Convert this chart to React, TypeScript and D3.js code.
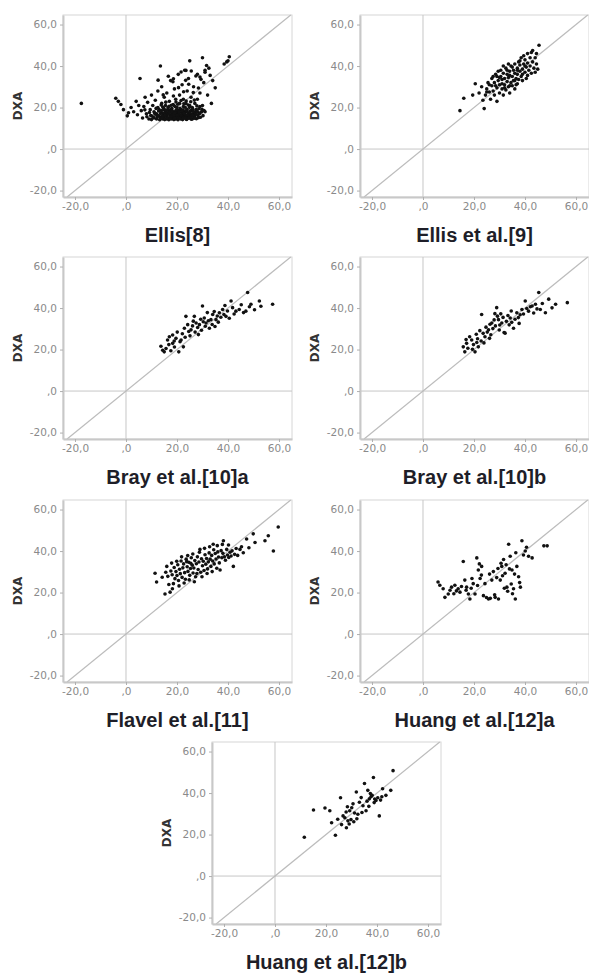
import { useEffect, useRef } from 'react';
import * as d3 from 'd3';

// values: [method estimate, DXA]
const ellis8: [number, number][] = [
  [-17.5, 22], [-4, 24.5], [-3, 23], [-2, 21.5], [-1, 19], [0.5, 16], [1, 17.5], [2, 20], [3, 18], [4, 23],
  [4.5, 16.5], [5.5, 34], [5, 21], [6, 18.5], [6.5, 15], [7, 20.5], [7.5, 25], [8, 17], [8.5, 22.5], [9, 14.5],
  [9.5, 19], [10, 26], [10, 16], [10.5, 21], [11, 15], [11, 18], [11.5, 23.5], [12, 14.5], [12, 17], [12.5, 20],
  [12.5, 28], [13, 16], [13, 19], [13.5, 40], [13.5, 15], [14, 22], [14, 17.5], [14, 30], [14.5, 14.5], [14.5, 16.5],
  [15, 19], [15, 25], [15, 15.5], [15.5, 18], [15.5, 21], [16, 14.5], [16, 16.5], [16, 27], [16.5, 17.5], [16.5, 20],
  [17, 15], [17, 23], [17, 18.5], [17.5, 16], [17.5, 33], [18, 14.5], [18, 19.5], [18, 17], [18.5, 21.5], [18.5, 15.5],
  [19, 18], [19, 29], [19, 16], [19.5, 24], [19.5, 14.5], [20, 17], [20, 20], [20, 15.5], [20.5, 36], [20.5, 18.5],
  [21, 16], [21, 22], [21, 26], [21.5, 14.5], [21.5, 19], [22, 17], [22, 31], [22, 15.5], [22.5, 20.5], [22.5, 24],
  [23, 16.5], [23, 18], [23, 38], [23.5, 14.5], [23.5, 22], [24, 15.5], [24, 19], [24, 28], [24.5, 17], [24.5, 34],
  [25, 21], [25, 42.5], [25, 16], [25.5, 18.5], [25.5, 25], [26, 14.5], [26, 20], [26.5, 17], [26.5, 30], [27, 22],
  [27, 16], [27.5, 19], [28, 24], [28, 36], [28.5, 17.5], [29, 20.5], [29, 27], [30, 44], [30, 21], [30.5, 32],
  [31, 38], [31, 18], [32, 26], [32.5, 39], [33, 35.5], [33.5, 22], [34, 33], [35, 29.5], [38.5, 41], [39.5, 42],
  [40.5, 44.5], [40, 42.5], [10, 14.2], [11.5, 16.8], [12.2, 15.6], [12.8, 18.4], [13.2, 14.1], [13.6, 17.2], [14.3, 15.8], [14.8, 19.6],
  [15.2, 14.2], [15.8, 17.1], [16.2, 15.3], [16.4, 18.9], [16.8, 14.1], [17.2, 16.4], [17.6, 19.1], [18.2, 15.1], [18.4, 17.8], [18.8, 14.2],
  [19.2, 16.9], [19.4, 20.4], [19.8, 15.2], [20.2, 18.1], [20.4, 14.1], [20.8, 16.8], [21.2, 19.6], [21.4, 15.3], [21.8, 17.6], [22.2, 14.2],
  [22.4, 18.9], [22.8, 15.8], [23.2, 20.1], [23.4, 16.2], [23.8, 14.3], [24.2, 17.6], [24.4, 21.2], [24.8, 15.1], [25.2, 18.3], [25.6, 14.4],
  [25.8, 16.7], [26.2, 19.2], [26.6, 15.4], [27.2, 17.8], [27.6, 14.6], [28.2, 16.2], [28.6, 19.4], [29.2, 15.3], [29.6, 17.9], [30.2, 16.1],
  [15.6, 22.6], [17.8, 21.1], [19.6, 22.7], [21.6, 23.4], [23.6, 23.1], [25.4, 22.8], [26.8, 23.6], [13.8, 21.2], [11.8, 19.6], [9.2, 17.6],
  [8.2, 15.6], [7.4, 18.9], [14.6, 26.1], [18.6, 25.6], [22.6, 27.6], [20.6, 29.6], [24.6, 31.2], [26.4, 27.2], [28.4, 29.4], [29.4, 33.6],
  [27.4, 35.2], [25.6, 37.6], [23.4, 33.1], [18.4, 32.4], [16.6, 35.1], [12.6, 33.2], [29, 34.7], [31, 37], [31.6, 40.3], [21.6, 37.1],
  [23.5, 37.9], [18.6, 33.9],
  [12.4, 16.1], [13.4, 15.2], [13.9, 18.6], [14.1, 14.8], [14.9, 17.4], [15.4, 16.2], [15.9, 18.7], [16.3, 14.9], [16.7, 16.9], [17.1, 17.7],
  [17.4, 14.6], [17.9, 15.8], [18.1, 18.4], [18.7, 16.4], [19.1, 14.9], [19.3, 17.5], [19.7, 18.8], [20.1, 16.3], [20.6, 15.1], [20.9, 17.9],
  [21.3, 14.8], [21.7, 16.2], [22.1, 18.3], [22.5, 15.1], [22.9, 17.1], [23.3, 14.9], [23.7, 18.6], [24.1, 16.4], [24.6, 14.9], [25.1, 17.4],
  [25.5, 15.6], [26.1, 16.2], [26.4, 18.1], [26.9, 14.9], [27.4, 16.9], [27.9, 18.3], [28.4, 15.1], [28.9, 17.1], [11.2, 17.4], [10.7, 15.4],
  [9.7, 16.2], [18.9, 20.9], [20.3, 21.6], [22.7, 21.8], [24.9, 20.1], [16.9, 20.6], [14.4, 20.3], [27.8, 20.8], [29.8, 19.1], [30.6, 18.6],
];

const ellis9: [number, number][] = [
  [14.5, 18.5], [16, 24.5], [19.5, 26], [20.5, 31.5], [22, 27], [23, 30], [23.5, 23.5], [24, 19.5], [24.5, 26], [25, 29],
  [25.5, 32], [26, 27.5], [26.5, 24], [27, 30.5], [27, 34], [27.5, 28], [28, 26], [28, 32], [28.5, 36], [29, 29.5],
  [29, 23], [29.5, 33], [30, 27], [30, 31], [30.5, 35], [30.5, 38], [31, 29], [31, 33.5], [31.5, 26], [31.5, 36.5],
  [32, 31], [32, 34], [32.5, 28.5], [32.5, 39], [33, 32.5], [33, 36], [33.5, 30], [33.5, 34.5], [34, 37.5], [34, 27],
  [34.5, 32], [34.5, 40], [35, 35], [35, 30.5], [35.5, 38], [35.5, 33], [36, 36.5], [36, 41], [36.5, 34], [36.5, 31],
  [37, 39], [37, 36], [37.5, 42], [37.5, 33.5], [38, 37.5], [38, 40.5], [38.5, 35], [38.5, 44], [39, 38.5], [39, 33],
  [39.5, 41], [40, 37], [40, 43], [40.5, 39.5], [41, 35.5], [41, 41.5], [41.5, 38], [42, 44], [42, 40], [42.5, 46.5],
  [42.5, 36.5], [43, 42], [43.5, 39], [44, 44], [44, 37], [44.5, 41], [45, 38.5], [45.5, 50], [29.5, 37.5], [28.5, 30.5],
  [30, 34.5], [31, 31.5], [32, 29.5], [33, 38], [34, 35.5], [35, 39.5], [36, 33], [37, 38], [38, 42.5], [39, 36],
  [40, 40], [33.5, 41], [31.5, 40], [27.5, 35], [26, 31], [25, 27.5], [29, 35], [36, 29], [34, 30.5], [37, 31.5],
  [39.5, 45], [41, 46], [43, 47.5], [40.5, 34], [44.5, 46],
];

const brayA: [number, number][] = [
  [13.7, 21.6], [14.4, 19.7], [15, 18.9], [15.7, 20.5], [16.3, 24.6], [16.8, 22.4], [17, 26.2], [17.6, 19.4], [18.3, 27], [18.3, 23],
  [19, 21.2], [19.6, 25.4], [20.1, 28.4], [20.7, 18.9], [21.2, 23.8], [21.6, 24.6], [22.1, 27.6], [22.9, 30.3], [23.2, 25.9], [23.5, 36],
  [24.2, 32], [24.6, 28.7], [25.1, 26.6], [25.5, 29.5], [26.1, 31.4], [26.8, 36], [27.1, 28.4], [27.5, 32.8], [28.1, 30.6], [28.8, 32],
  [29.3, 34.6], [29.6, 29.3], [30, 41], [30.3, 33.4], [30.7, 35.2], [31.1, 31.2], [31.4, 32.8], [31.9, 37.8], [32.3, 33.9], [32.7, 30.3],
  [33.3, 34.4], [33.8, 32.1], [34, 36.9], [34.6, 38.3], [35.3, 34.4], [35.8, 36.2], [36.2, 33.2], [36.6, 37.7], [37.2, 35.6], [37.9, 39.3],
  [38.4, 36.9], [39.2, 36], [39.8, 38.6], [40.5, 35.1], [41.2, 43.4], [41.8, 40.2], [42.4, 37.1], [43.1, 38.5], [44.4, 39.3], [45.2, 41.6],
  [46.1, 37.8], [47, 38.5], [47.7, 47.5], [48.4, 40.6], [49, 41.8], [50.4, 39.2], [52.3, 43.4], [52.9, 40.9], [57.5, 41.8], [18.9, 24.1],
  [26.4, 33.7], [28.4, 27.2], [34.9, 31.1], [22.5, 21.3], [38.8, 41.2],
];

const brayB: [number, number][] = [
  [15.8, 21.3], [16.4, 18.9], [16.9, 24.8], [17.1, 23], [17.6, 20.6], [18.3, 26.2], [19.1, 24.6], [19.8, 22.4], [20.4, 18.9], [20.9, 27.4],
  [21.4, 25.2], [21.7, 21.3], [22.3, 29.1], [22.8, 24.1], [23, 36.9], [23.6, 27.8], [24.3, 26.2], [24.7, 30.8], [25.2, 28.4], [25.7, 29.5],
  [26.3, 32.2], [26.6, 27.1], [27, 32.8], [27.4, 30.1], [27.9, 34.3], [28.4, 31.4], [28.9, 40.2], [29.2, 36.1], [29.6, 34.4], [30.1, 31.8],
  [30.5, 37.2], [30.9, 32.8], [31.4, 35.5], [31.8, 28.2], [32.2, 27.9], [32.7, 33.6], [33.3, 36.4], [33.8, 31.9], [34.2, 35.2], [34.8, 33.1],
  [35.5, 30.3], [36.1, 34.6], [36.8, 37.7], [37.4, 35.4], [38.1, 36.8], [38.8, 39.3], [39.4, 37.1], [40.1, 43.4], [40.7, 39.8], [41.4, 38.5],
  [42.1, 40.6], [42.8, 41], [43.4, 37.6], [44.1, 41.8], [44.7, 39.6], [45.4, 47.5], [46, 39.3], [46.8, 42.2], [48, 37.7], [49.3, 44.3],
  [50.6, 40.1], [52, 41.8], [56.6, 42.6], [19.4, 20.1], [23.9, 23.2], [26.1, 25.4], [29.9, 29.4], [34.6, 38.6], [37.7, 32.6], [28.2, 37.3],
  [21.1, 23.4],
];

const flavel11: [number, number][] = [
  [11.4, 29.3], [12, 25.1], [14.2, 27.4], [15.3, 19.3], [16, 32.6], [16.4, 27.8], [16.8, 23.9], [17.3, 20.2], [17.6, 30.4], [18.1, 28.6],
  [18.6, 24.3], [18.9, 32.1], [19.2, 26.7], [19.6, 30.1], [20, 28.2], [20.3, 33.4], [20.6, 25.8], [21, 31.2], [21.3, 29.1], [21.6, 35.2],
  [22, 27.3], [22.3, 31.9], [22.6, 33.8], [23, 29.6], [23.3, 26.4], [23.6, 36.1], [24, 32.4], [24.3, 30.2], [24.6, 34.6], [25, 28.3],
  [25.3, 31.6], [25.6, 36.8], [26, 33.2], [26.3, 29.4], [26.6, 31.8], [27, 35.4], [27.3, 27.6], [27.6, 33.9], [28, 37.2], [28.3, 31.1],
  [28.6, 34.7], [29, 40.8], [29.3, 29.8], [29.6, 36.3], [30, 32.9], [30.3, 35.1], [30.6, 30.6], [31, 38.2], [31.3, 33.7], [31.6, 36.4],
  [32, 31.4], [32.3, 34.8], [32.6, 39.1], [33, 36.1], [33.3, 32.6], [33.6, 37.9], [34, 35.2], [34.2, 43.3], [34.6, 33.8], [35, 38.8],
  [35.3, 36.2], [35.6, 31.7], [36, 39.6], [36.3, 37.1], [36.6, 34.3], [36.9, 30.9], [37.3, 40.2], [37.6, 36.8], [38, 38.9], [38.2, 45],
  [38.6, 37.2], [39, 35.6], [39.5, 40.8], [39.8, 38.1], [40.3, 36.9], [40.8, 39.4], [41.2, 37.6], [41.6, 40.1], [42.1, 32.6], [42.6, 38.4],
  [43.2, 41.2], [43.8, 37.9], [44.7, 40.8], [45.3, 42.1], [46, 39.2], [47.3, 45.8], [48.2, 41.6], [49.9, 48.3], [50.6, 44.1], [54.5, 45],
  [55.8, 47.4], [57.8, 40], [59.7, 51.6], [18.2, 21.8], [20.8, 23.2], [22.8, 24.6], [24.8, 26.1], [26.8, 25.2], [27.8, 29.2], [29.8, 27.6],
  [31.8, 29.2], [33.8, 30.1], [30.8, 41.3], [32.8, 42.1], [28.8, 39.4], [26.2, 38.6], [24.2, 37.8], [21.8, 37.2], [35.8, 42.6], [37.8, 43.2],
  [40.2, 42.9], [34.4, 40.6], [25.4, 34.1], [23.8, 34.9], [19.9, 35.1], [17.9, 34.2], [15.6, 29.8],
];

const huangA: [number, number][] = [
  [5.9, 25.1], [6.6, 23.5], [7.9, 21.8], [8.6, 17.7], [9.9, 19.3], [11.2, 22.6], [12.5, 23.5], [13.8, 21.8], [14.5, 20.2], [15.8, 35],
  [16.4, 26], [17.1, 22.6], [17.8, 19.3], [18.4, 16.9], [19.7, 24.3], [20.4, 19.3], [21.1, 36.7], [21.7, 30.9], [22.4, 26.8], [23, 32.6],
  [23.7, 18.5], [24.3, 24.3], [25.7, 16.9], [27, 26], [27.6, 30.1], [28.3, 17.7], [29.6, 16.9], [30.3, 26], [30.9, 32.6], [31.6, 35.9],
  [32.2, 29.3], [32.9, 22.6], [33.6, 43.3], [34.2, 37.5], [34.9, 30.9], [35.5, 21.8], [36.2, 16.9], [36.8, 32.6], [37.5, 27.6], [38.2, 22.6],
  [38.8, 45], [40.1, 40], [41.4, 37.5], [42.8, 36.7], [47.4, 42.5], [48.7, 42.5], [13.1, 20.8], [15.1, 22.9], [16.9, 21.1], [18.9, 22.1],
  [21.4, 23.4], [22.9, 28.4], [24.9, 17.6], [26.4, 17.2], [28.9, 27.2], [29.4, 31.6], [30.6, 34.1], [31.9, 22.1], [33.2, 20.6], [33.9, 31.4],
  [34.6, 24.1], [35.9, 28.9], [36.4, 39.2], [37.9, 24.8], [39.4, 38.1], [40.6, 41.8], [10.6, 21.1], [12.1, 19.4], [22.1, 33.8], [26.1, 28.9],
  [31.2, 28.1], [32.6, 33.4], [35.1, 19.4], [19.2, 26.8], [28.1, 18.9],
];

const huangB: [number, number][] = [
  [11.5, 18.7], [15.1, 31.8], [19.6, 32.8], [21.5, 31.5], [22.2, 25.7], [23.7, 19.7], [25.7, 37.7], [26.7, 29], [28, 23.3], [28.6, 26.6],
  [29.3, 31.5], [30.6, 34.8], [31.9, 40.5], [32.5, 29.8], [34.5, 33.9], [35.1, 44.6], [36.4, 41.3], [37, 37.2], [38.6, 47.5], [39.6, 36.4],
  [40.9, 29], [42.2, 42.1], [43.5, 38.9], [45.4, 41.3], [46.3, 50.8], [35.7, 31.5], [37.7, 38.3], [40.3, 37.7], [24.6, 27.4], [27.4, 28.1],
  [29.8, 27.2], [30.1, 32.9], [31.2, 30.4], [33.1, 35.6], [34.1, 30.6], [36.1, 36.1], [38.1, 38.9], [39.1, 37.1], [41.4, 36.6], [27.9, 30.9],
  [26.1, 24.8], [32.1, 27.6], [29.1, 25.1], [38.9, 35.4], [41.9, 38.2], [33.8, 37.8], [28.4, 33.4], [36.8, 33.6], [30.9, 26.2], [37.4, 39.8],
];

const panelData = [ellis8, ellis9, brayA, brayB, flavel11, huangA, huangB];
const panelTitles = ['Ellis[8]', 'Ellis et al.[9]', 'Bray et al.[10]a', 'Bray et al.[10]b', 'Flavel et al.[11]', 'Huang et al.[12]a', 'Huang et al.[12]b'];
const axisTicks = [-20, 0, 20, 40, 60];
const yLabel = 'DXA';

const W = 589;
const H = 976;
const PW = 229;
const PH = 182;
// top-left of every plot box
const boxes = [
  [63, 15], [360, 15],
  [63, 257], [360, 257],
  [63, 500], [360, 500],
  [212, 742],
];

const fmt = (d: number) => (d === 0 ? ',0' : d.toFixed(1).replace('.', ','));

export default function App() {
  const svgRef = useRef<SVGSVGElement>(null);

  useEffect(() => {
    const svg = d3.select(svgRef.current);
    svg.selectAll('*').remove();

    const x = d3.scaleLinear().domain([-24.7, 65.1]).range([0, PW]);
    const y = d3.scaleLinear().domain([-23.1, 64.6]).range([PH, 0]);

    panelData.forEach((pts, i) => {
      const [bx, by] = boxes[i];
      const g = svg.append('g').attr('transform', `translate(${bx},${by})`);

      g.append('rect').attr('width', PW).attr('height', PH)
        .attr('fill', '#fff').attr('stroke', '#d6d6d6');

      // reference lines at zero
      g.append('line').attr('x1', x(0)).attr('x2', x(0)).attr('y1', 0).attr('y2', PH)
        .attr('stroke', '#c6c6c6');
      g.append('line').attr('x1', 0).attr('x2', PW).attr('y1', y(0)).attr('y2', y(0))
        .attr('stroke', '#c6c6c6');

      // identity line
      const lo = -23.1, hi = 64.6;
      g.append('line').attr('x1', x(lo)).attr('y1', y(lo)).attr('x2', x(hi)).attr('y2', y(hi))
        .attr('stroke', '#bcbcbc').attr('stroke-width', 1.2);

      // axes
      const styleAxis = (a: any) => {
        a.select('.domain').attr('stroke', '#c8c8c8').attr('stroke-width', 2);
        a.selectAll('line').attr('stroke', '#b0b0b0');
        a.selectAll('text').attr('fill', '#8a8a8a').attr('font-size', 10.5)
          .attr('font-family', 'DejaVu Sans, sans-serif');
      };
      g.append('g').attr('transform', `translate(0,${PH})`)
        .call(d3.axisBottom(x).tickValues(axisTicks).tickSize(3).tickSizeOuter(0).tickFormat(fmt as any))
        .call(styleAxis);
      g.append('g')
        .call(d3.axisLeft(y).tickValues(axisTicks).tickSize(3).tickSizeOuter(0).tickFormat(fmt as any))
        .call(styleAxis);

      g.selectAll('circle.pt').data(pts).enter().append('circle')
        .attr('class', 'pt')
        .attr('cx', d => x(d[0])).attr('cy', d => y(d[1]))
        .attr('r', 1.8).attr('fill', '#111');

      g.append('text')
        .attr('transform', `translate(-45,${PH / 2}) rotate(-90)`)
        .attr('text-anchor', 'middle').attr('dominant-baseline', 'central')
        .attr('font-family', 'DejaVu Sans, sans-serif').attr('font-weight', 'bold')
        .attr('font-size', 12).attr('fill', '#333')
        .text(yLabel);

      g.append('text')
        .attr('x', PW / 2).attr('y', PH + 45)
        .attr('text-anchor', 'middle')
        .attr('font-family', 'Liberation Sans, Arial, sans-serif').attr('font-weight', 'bold')
        .attr('font-size', 20).attr('fill', '#1e1e28')
        .text(panelTitles[i]);
    });
  }, []);

  return (
    <div style={{ position: 'absolute', left: 0, top: 0, width: W, height: H, background: '#fff' }}>
      <svg ref={svgRef} width={W} height={H} style={{ display: 'block' }} />
    </div>
  );
}
